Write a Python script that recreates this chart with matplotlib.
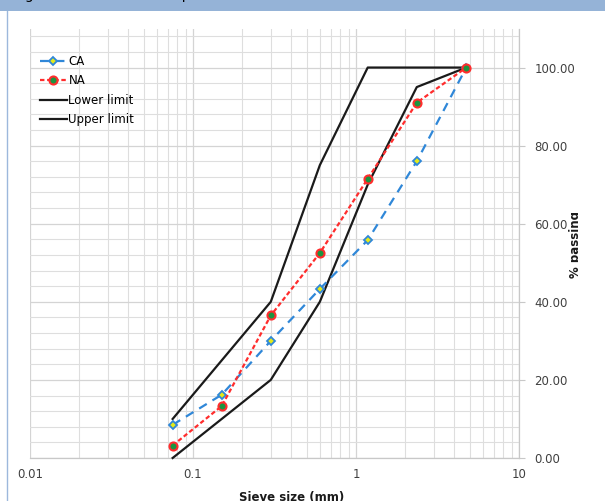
import numpy as np
import matplotlib.pyplot as plt
from matplotlib.patches import Rectangle
from matplotlib.ticker import FixedLocator, NullFormatter

sieve = [0.075, 0.15, 0.3, 0.6, 1.18, 2.36, 4.75]
ca = [8.5, 16.2, 30.0, 43.3, 55.8, 76.0, 100.0]
na = [3.2, 13.3, 36.5, 52.5, 71.5, 91.0, 100.0]
lower = [0, 10, 20, 40, 70, 95, 100]
upper = [10, 25, 40, 75, 100, 100, 100]

x_ticks = [0.01, 0.1, 1, 10]
x_labels = ['0.01', '0.1', '1', '10']
y_ticks = [0, 20, 40, 60, 80, 100]

W, H = 605, 501
fig = plt.figure(figsize=(W / 100, H / 100), dpi=100)
fig.patch.set_facecolor('white')

# page frame + caption bar
fig.add_artist(Rectangle((7 / W, -0.01), 1.0, 1.0, transform=fig.transFigure,
                         facecolor='white', edgecolor='#9db8dc', lw=1.0, zorder=0))
fig.add_artist(Rectangle((0, 1 - 11 / H), 1.0, 11 / H, transform=fig.transFigure,
                         facecolor='#95b3d7', edgecolor='none', zorder=1))
fig.text(14 / W, 1 + 1 / H, 'Figure 6: Grain size comparison', fontsize=10,
         va='baseline', ha='left', color='black')

ax = fig.add_axes([30 / W, 1 - 458 / H, (519 - 30) / W, (458 - 28.5) / H])
ax.set_xscale('log')
ax.set_xlim(0.01, 10)
ax.set_ylim(0, 110)

ax.plot(sieve, lower, color='#1a1a1a', lw=1.6, label='Lower limit', zorder=3, clip_on=False)
ax.plot(sieve, upper, color='#1a1a1a', lw=1.6, label='Upper limit', zorder=3, clip_on=False)
ax.plot(sieve, ca, color='#2f87d8', lw=1.6, dashes=(4, 3), marker='D', ms=4.2,
        mfc='#e4ea1a', mec='#2f87d8', mew=1.3, label='CA', zorder=4)
ax.plot(sieve, na, color='#ff2d2d', lw=1.6, dashes=(2, 1.2), marker='o', ms=5.8,
        mfc='#1c9440', mec='#ff2d2d', mew=1.5, label='NA', zorder=5)

# grid
ax.set_xticks(x_ticks)
ax.set_xticklabels(x_labels)
ax.xaxis.set_minor_locator(FixedLocator(
    [m * d for d in (0.01, 0.1, 1) for m in range(2, 10)]))
ax.xaxis.set_minor_formatter(NullFormatter())
ax.set_yticks(y_ticks)
ax.set_yticklabels(['%.2f' % v for v in y_ticks])
ax.yaxis.set_minor_locator(FixedLocator(np.arange(0, 110, 4)))
ax.grid(True, which='major', color='#d4d4d4', lw=0.9)
ax.grid(True, which='minor', color='#dedede', lw=0.8)
ax.set_axisbelow(True)

for side in ('left', 'top'):
    ax.spines[side].set_visible(False)
for side in ('right', 'bottom'):
    ax.spines[side].set_color('#c8c8c8')
    ax.spines[side].set_linewidth(0.9)

ax.yaxis.tick_right()
ax.tick_params(axis='y', which='major', length=4, color='#c8c8c8', pad=7,
               labelsize=8.5, labelcolor='#404040')
ax.tick_params(axis='y', which='minor', length=0)
ax.tick_params(axis='x', which='both', length=0, pad=7, labelsize=8.5,
               labelcolor='#404040')

handles, labels = ax.get_legend_handles_labels()
order = [2, 3, 0, 1]
ax.legend([handles[i] for i in order], [labels[i] for i in order],
          loc='upper left', bbox_to_anchor=(0.005, 0.955), frameon=False,
          fontsize=8.5, handlelength=2.3, handletextpad=0.15,
          labelspacing=0.55, borderaxespad=0.2)

fig.text(292 / W, 1 - 491 / H, 'Sieve size (mm)', fontsize=8.5, weight='bold',
         ha='center', va='top', color='#1a1a1a')
fig.text(575.5 / W, 1 - 245 / H, '% passing', fontsize=8.5, weight='bold',
         rotation=90, ha='center', va='center', color='#1a1a1a')
# right margin hides part of the axis title
fig.add_artist(Rectangle((578 / W, 0), 1.0, 1 - 11 / H, transform=fig.transFigure,
                         facecolor='white', edgecolor='none', zorder=10))

fig.savefig('out.png', dpi=100)
